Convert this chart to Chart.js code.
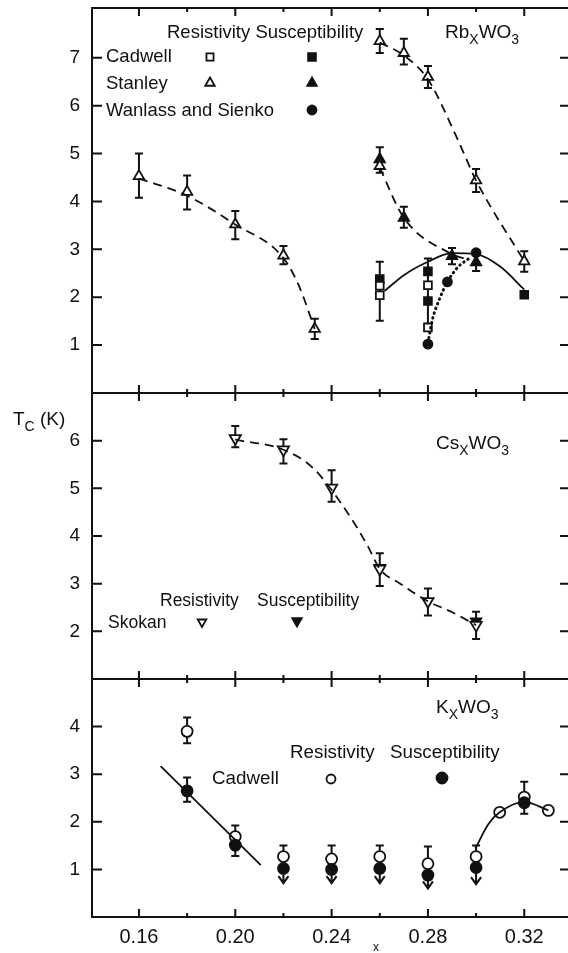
<!DOCTYPE html>
<html>
<head>
<meta charset="utf-8">
<script src="https://cdn.jsdelivr.net/npm/chart.js@4.4.1/dist/chart.umd.min.js"></script>
<style>
html, body { margin: 0; padding: 0; background: #fff; overflow: hidden; }
</style>
</head>
<body>
<canvas id="myChart" width="572" height="953"></canvas>
<script>
// x axis
const xTicks = [0.16, 0.20, 0.24, 0.28, 0.32];
const xMinor = [0.18, 0.22, 0.26, 0.30];
const rbTicks = [1, 2, 3, 4, 5, 6, 7];
const csTicks = [2, 3, 4, 5, 6];
const kTicks = [1, 2, 3, 4];

// RbxWO3 - Stanley resistivity (open triangles)
const rbStanResX  = [0.16, 0.18, 0.20, 0.22, 0.233, 0.26, 0.26, 0.27, 0.28, 0.30, 0.32];
const rbStanResY  = [4.53, 4.20, 3.52, 2.87, 1.34, 7.35, 4.74, 7.10, 6.60, 4.44, 2.75];
const rbStanResLo = [4.08, 3.83, 3.21, 2.69, 1.13, 7.10, 4.60, 6.86, 6.37, 4.20, 2.53];
const rbStanResHi = [5.00, 4.54, 3.80, 3.07, 1.55, 7.60, 5.13, 7.40, 6.83, 4.68, 2.96];
// Stanley susceptibility (filled triangles)
const rbStanSusX  = [0.26, 0.27, 0.29, 0.30];
const rbStanSusY  = [4.88, 3.66, 2.86, 2.73];
const rbStanSusLo = [null, 3.45, 2.69, 2.55];
const rbStanSusHi = [null, 3.89, 3.03, 2.89];
// Cadwell
const rbCadResX  = [0.26, 0.26, 0.28, 0.28];
const rbCadResY  = [2.24, 2.04, 2.25, 1.37];
const rbCadResLo = [1.51, null, null, null];
const rbCadResHi = [2.74, null, null, 2.81];
const rbCadSusX = [0.26, 0.28, 0.28, 0.32];
const rbCadSusY = [2.38, 2.54, 1.92, 2.05];
// Wanlass and Sienko
const rbWanX = [0.28, 0.2881, 0.30];
const rbWanY = [1.02, 2.32, 2.93];
// curves
const rbCurveAX = [0.16, 0.18, 0.20, 0.22, 0.2265, 0.233];
const rbCurveAY = [4.48, 4.12, 3.52, 2.82, 2.23, 1.34];
const rbCurveBX = [0.26, 0.27, 0.28, 0.2923, 0.30, 0.32];
const rbCurveBY = [7.32, 7.05, 6.55, 5.30, 4.44, 2.75];
const rbCurveCX = [0.26, 0.27, 0.29, 0.297];
const rbCurveCY = [4.70, 3.66, 2.90, 2.78];
const rbSolidX = [0.262, 0.27, 0.28, 0.29, 0.30, 0.31, 0.32];
const rbSolidY = [2.13, 2.46, 2.74, 2.92, 2.90, 2.64, 2.16];
const rbDotX = [0.28, 0.2819, 0.2847, 0.2881, 0.2923, 0.2976];
const rbDotY = [1.05, 1.54, 1.95, 2.32, 2.62, 2.83];

// CsxWO3 - Skokan
const csResX  = [0.20, 0.22, 0.24, 0.26, 0.28, 0.30];
const csResY  = [6.05, 5.81, 5.01, 3.31, 2.63, 2.13];
const csResLo = [5.86, 5.52, 4.72, 2.95, 2.33, 1.84];
const csResHi = [6.31, 6.03, 5.38, 3.64, 2.90, 2.41];
const csSusX = [0.26, 0.30];
const csSusY = [3.33, 2.21];
const csCurveX = [0.20, 0.22, 0.2322, 0.2466, 0.2549, 0.26, 0.2685, 0.28, 0.2897, 0.30];
const csCurveY = [6.02, 5.81, 5.43, 4.49, 3.80, 3.31, 3.00, 2.63, 2.41, 2.13];

// KxWO3 - Cadwell
const kResX  = [0.18, 0.20, 0.22, 0.24, 0.26, 0.28, 0.30, 0.3098, 0.32, 0.330];
const kResY  = [3.90, 1.69, 1.27, 1.22, 1.27, 1.12, 1.27, 2.20, 2.52, 2.24];
const kResLo = [3.65, 1.28, null, null, null, null, null, null, 2.17, null];
const kResHi = [4.19, 1.92, 1.50, 1.50, 1.50, 1.48, 1.50, null, 2.84, null];
const kSusX  = [0.18, 0.20, 0.22, 0.24, 0.26, 0.28, 0.30, 0.32];
const kSusY  = [2.65, 1.51, 1.02, 1.00, 1.02, 0.88, 1.04, 2.40];
const kSusLo = [2.42, null, null, null, null, null, null, null];
const kSusHi = [2.93, null, null, null, null, null, null, null];
const kSusArrow = [null, null, 0.71, 0.71, 0.71, 0.60, 0.69, null];
const kLineX = [0.169, 0.2106];
const kLineY = [3.17, 1.09];
const kCurveX = [0.2997, 0.3052, 0.3098, 0.32, 0.330];
const kCurveY = [1.44, 1.96, 2.20, 2.42, 2.24];

const ink = '#111';
const family = '"Liberation Sans", Arial, sans-serif';

function pts(xs, ys) {
    return xs.map((x, i) => ({x: x, y: ys[i]}));
}

function markers(axis, xs, ys, style, filled, radius, extra) {
    return Object.assign({
        yAxisID: axis,
        data: pts(xs, ys),
        pointStyle: style,
        pointRadius: radius,
        pointHoverRadius: radius,
        pointBackgroundColor: filled ? ink : '#fff',
        pointBorderColor: ink,
        pointBorderWidth: 1.8,
        showLine: false
    }, extra || {});
}

function curve(axis, xs, ys, dash, width, extra) {
    return Object.assign({
        yAxisID: axis,
        data: pts(xs, ys),
        showLine: true,
        pointRadius: 0,
        borderColor: ink,
        borderWidth: width,
        borderDash: dash,
        cubicInterpolationMode: 'monotone',
        fill: false
    }, extra || {});
}

// error bars and upper-limit arrows
const errorBars = {
    id: 'errorBars',
    beforeDatasetsDraw(chart) {
        const ctx = chart.ctx;
        const xs = chart.scales.x;
        ctx.save();
        ctx.strokeStyle = ink;
        ctx.lineWidth = 2;
        chart.data.datasets.forEach((ds) => {
            if (!ds.errHi && !ds.errLo && !ds.arrowTo) return;
            const ys = chart.scales[ds.yAxisID];
            ds.data.forEach((p, j) => {
                const px = xs.getPixelForValue(p.x);
                const hi = ds.errHi ? ds.errHi[j] : null;
                const lo = ds.errLo ? ds.errLo[j] : null;
                if (hi != null || lo != null) {
                    const yT = ys.getPixelForValue(hi != null ? hi : p.y);
                    const yB = ys.getPixelForValue(lo != null ? lo : p.y);
                    ctx.beginPath();
                    ctx.moveTo(px, yT);
                    ctx.lineTo(px, yB);
                    if (hi != null) { ctx.moveTo(px - 4, yT); ctx.lineTo(px + 4, yT); }
                    if (lo != null) { ctx.moveTo(px - 4, yB); ctx.lineTo(px + 4, yB); }
                    ctx.stroke();
                }
                const to = ds.arrowTo ? ds.arrowTo[j] : null;
                if (to != null) {
                    const y0 = ys.getPixelForValue(p.y);
                    const y1 = ys.getPixelForValue(to);
                    ctx.beginPath();
                    ctx.moveTo(px, y0);
                    ctx.lineTo(px, y1);
                    ctx.moveTo(px - 5, y1 - 7);
                    ctx.lineTo(px, y1);
                    ctx.lineTo(px + 5, y1 - 7);
                    ctx.stroke();
                }
            });
        });
        ctx.restore();
    }
};

// panel frames with inward ticks
const frames = {
    id: 'frames',
    afterDraw(chart) {
        const ctx = chart.ctx;
        const xs = chart.scales.x;
        const L = chart.chartArea.left, R = chart.chartArea.right;
        const panels = [['yRb', rbTicks], ['yCs', csTicks], ['yK', kTicks]];
        ctx.save();
        ctx.strokeStyle = ink;
        ctx.lineWidth = 2;
        panels.forEach(([id, ticks]) => {
            const s = chart.scales[id];
            ctx.strokeRect(L, s.top, R - L, s.bottom - s.top);
            ctx.beginPath();
            ticks.forEach((v) => {
                const py = s.getPixelForValue(v);
                ctx.moveTo(L, py); ctx.lineTo(L + 10, py);
                ctx.moveTo(R, py); ctx.lineTo(R - 10, py);
            });
            xTicks.concat(xMinor).forEach((v) => {
                const px = xs.getPixelForValue(v);
                const len = xTicks.includes(v) ? 8 : 4;
                ctx.moveTo(px, s.top); ctx.lineTo(px, s.top + len);
                ctx.moveTo(px, s.bottom); ctx.lineTo(px, s.bottom - len);
            });
            ctx.stroke();
        });
        ctx.restore();
    }
};

function subText(ctx, parts, x, y, size) {
    let cx = x;
    parts.forEach(([t, sub]) => {
        ctx.font = (sub ? Math.round(size * 0.72) : size) + 'px ' + family;
        ctx.fillText(t, cx, y + (sub ? size * 0.38 : 0));
        cx += ctx.measureText(t).width;
    });
}

function legendMark(ctx, style, filled, radius, x, y, rotation) {
    ctx.fillStyle = filled ? ink : '#fff';
    ctx.strokeStyle = ink;
    ctx.lineWidth = 1.8;
    Chart.helpers.drawPoint(ctx, {pointStyle: style, radius: radius, rotation: rotation || 0, borderWidth: 1.8}, x, y);
}

// labels, legends and compound names
const labels = {
    id: 'labels',
    afterDraw(chart) {
        const ctx = chart.ctx;
        ctx.save();
        ctx.textBaseline = 'middle';
        ctx.textAlign = 'left';
        ctx.fillStyle = ink;
        // Rb panel
        ctx.font = '18.5px ' + family;
        ctx.fillText('Resistivity Susceptibility', 167, 33);
        ctx.fillText('Cadwell', 106, 57);
        ctx.fillText('Stanley', 106, 84);
        ctx.fillText('Wanlass and Sienko', 106, 111);
        subText(ctx, [['Rb', false], ['X', true], ['WO', false], ['3', true]], 445, 33, 19);
        legendMark(ctx, 'rect', false, 5, 210, 57);
        legendMark(ctx, 'rect', true, 5.5, 312, 57);
        legendMark(ctx, 'triangle', false, 5.5, 210, 83);
        legendMark(ctx, 'triangle', true, 5.5, 312, 83);
        legendMark(ctx, 'circle', true, 4.5, 312, 110);
        // Cs panel
        ctx.fillStyle = ink;
        subText(ctx, [['T', false], ['C', true], [' (K)', false]], 13, 420, 19);
        subText(ctx, [['Cs', false], ['X', true], ['WO', false], ['3', true]], 436, 444, 19);
        ctx.font = '17.5px ' + family;
        ctx.fillText('Resistivity', 160, 601);
        ctx.fillText('Susceptibility', 257, 601);
        ctx.fillText('Skokan', 108, 623);
        legendMark(ctx, 'triangle', false, 5, 202, 622, 180);
        legendMark(ctx, 'triangle', true, 5.5, 297, 621, 180);
        // K panel
        ctx.fillStyle = ink;
        subText(ctx, [['K', false], ['X', true], ['WO', false], ['3', true]], 436, 708, 19);
        ctx.font = '18.8px ' + family;
        ctx.fillText('Resistivity', 290, 753);
        ctx.fillText('Susceptibility', 390, 753);
        ctx.fillText('Cadwell', 212, 779);
        legendMark(ctx, 'circle', false, 4.5, 331, 779);
        legendMark(ctx, 'circle', true, 5.5, 442, 778);
        // x axis title
        ctx.fillStyle = ink;
        ctx.font = '12px ' + family;
        ctx.fillText('x', 373, 948);
        ctx.restore();
    }
};

function noPad(s) {
    s.paddingTop = 0;
    s.paddingBottom = 0;
    s.paddingLeft = 0;
    s.paddingRight = 0;
}

function yScale(lo, hi, ticks, weight) {
    return {
        type: 'linear',
        position: 'left',
        stack: 'tc',
        stackWeight: weight,
        min: lo,
        max: hi,
        grid: {display: false, drawTicks: false},
        border: {display: false},
        afterBuildTicks: (s) => { s.ticks = ticks.map((v) => ({value: v})); },
        afterFit: (s) => { s.width = 92; noPad(s); },
        ticks: {color: ink, padding: 12, font: {family: family, size: 19}}
    };
}

const ctx = document.getElementById('myChart').getContext('2d');
const myChart = new Chart(ctx, {
    type: 'scatter',
    data: {
        datasets: [
            curve('yRb', rbCurveAX, rbCurveAY, [9, 6], 1.8),
            curve('yRb', rbCurveBX, rbCurveBY, [9, 6], 1.8),
            curve('yRb', rbCurveCX, rbCurveCY, [9, 6], 1.8),
            curve('yRb', rbSolidX, rbSolidY, [], 1.8),
            curve('yRb', rbDotX, rbDotY, [0.5, 4.5], 3, {borderCapStyle: 'round'}),
            markers('yRb', rbCadResX, rbCadResY, 'rect', false, 5.5, {errLo: rbCadResLo, errHi: rbCadResHi}),
            markers('yRb', rbCadSusX, rbCadSusY, 'rect', true, 5.5),
            markers('yRb', rbStanResX, rbStanResY, 'triangle', false, 6, {errLo: rbStanResLo, errHi: rbStanResHi}),
            markers('yRb', rbStanSusX, rbStanSusY, 'triangle', true, 6, {errLo: rbStanSusLo, errHi: rbStanSusHi}),
            markers('yRb', rbWanX, rbWanY, 'circle', true, 4.5),

            curve('yCs', csCurveX, csCurveY, [9, 6], 1.8),
            markers('yCs', csResX, csResY, 'triangle', false, 6.5, {rotation: 180, errLo: csResLo, errHi: csResHi}),
            markers('yCs', csSusX, csSusY, 'triangle', true, 6, {rotation: 180}),

            curve('yK', kLineX, kLineY, [], 1.8),
            curve('yK', kCurveX, kCurveY, [], 1.8),
            markers('yK', kSusX, kSusY, 'circle', true, 5.5, {errLo: kSusLo, errHi: kSusHi, arrowTo: kSusArrow}),
            markers('yK', kResX, kResY, 'circle', false, 5.5, {errLo: kResLo, errHi: kResHi})
        ]
    },
    options: {
        responsive: false,
        animation: false,
        events: [],
        layout: {autoPadding: false, padding: {left: 0, right: 2, top: 8, bottom: 0}},
        plugins: {legend: {display: false}, tooltip: {enabled: false}},
        scales: {
            x: {
                type: 'linear',
                position: 'bottom',
                min: 0.1405,
                max: 0.339,
                grid: {display: false, drawTicks: false},
                border: {display: false},
                afterBuildTicks: (s) => { s.ticks = xTicks.map((v) => ({value: v})); },
                afterFit: (s) => { s.height = 36; noPad(s); },
                ticks: {color: ink, padding: 8, font: {family: family, size: 20}, callback: (v) => Number(v).toFixed(2)}
            },
            yK: yScale(0, 5, kTicks, 238),
            yCs: yScale(1, 7, csTicks, 286),
            yRb: yScale(0, 8.04, rbTicks, 385)
        }
    },
    plugins: [errorBars, frames, labels]
});
</script>
</body>
</html>
